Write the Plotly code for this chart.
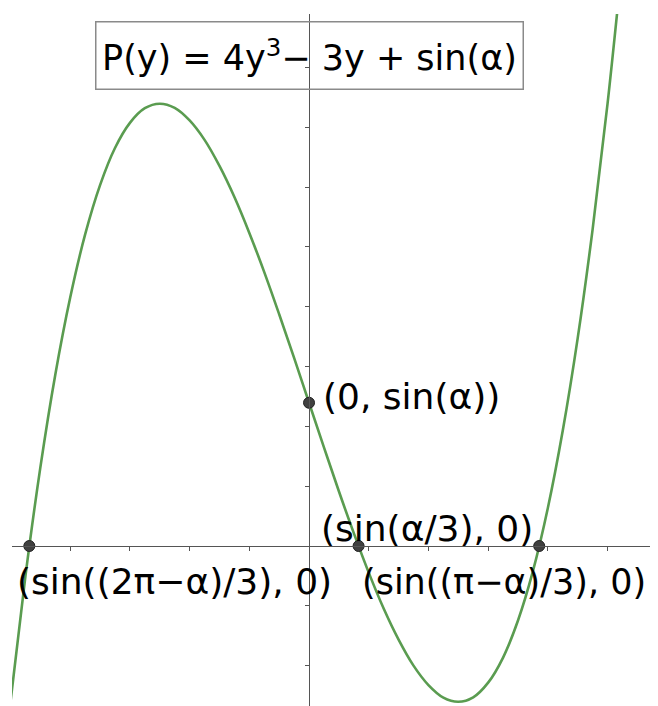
import plotly.graph_objects as go

# curve P(y) = 4y^3 - 3y + sin(alpha)
y_vals = [-1.05, -1.0, -0.95, -0.9, -0.85, -0.8, -0.75, -0.7, -0.65, -0.6,
          -0.55, -0.5, -0.45, -0.4, -0.35, -0.3, -0.25, -0.2, -0.15, -0.1,
          -0.05, 0.0, 0.05, 0.1, 0.15, 0.2, 0.25, 0.3, 0.35, 0.4,
          0.45, 0.5, 0.55, 0.6, 0.65, 0.7, 0.75, 0.8, 0.85, 0.9,
          0.95, 1.0, 1.05]
p_vals = [-1.002, -0.521, -0.101, 0.263, 0.573, 0.831, 1.042, 1.207, 1.331, 1.415,
          1.464, 1.479, 1.465, 1.423, 1.358, 1.271, 1.167, 1.047, 0.916, 0.775,
          0.629, 0.479, 0.330, 0.183, 0.043, -0.089, -0.209, -0.313, -0.400, -0.465,
          -0.507, -0.521, -0.506, -0.457, -0.373, -0.249, -0.084, 0.127, 0.386, 0.695,
          1.059, 1.479, 1.960]

# marked points
pt_x = [-0.937, 0.166, 0.771, 0.0]
pt_y = [0.0, 0.0, 0.0, 0.479]
pt_labels = ["(sin((2π−α)/3), 0)", "(sin(α/3), 0)", "(sin((π−α)/3), 0)", "(0, sin(α))"]

X_RANGE = [-0.995, 1.169]
Y_RANGE = [-0.535, 1.779]

GREEN = "#5a9c50"
AXIS = "#555555"
FONT = "DejaVu Sans"

fig = go.Figure()

fig.add_trace(go.Scatter(
    x=y_vals, y=p_vals, mode="lines",
    line=dict(color=GREEN, width=2.6, shape="spline"),
    hoverinfo="skip",
))

fig.add_trace(go.Scatter(
    x=pt_x, y=pt_y, mode="markers",
    marker=dict(size=11, color="#404040", line=dict(color="#222222", width=1)),
    hoverinfo="skip",
))

# label anchors (data units), left edge / vertical middle, font size
label_pos = [(-0.985, -0.12, 36), (0.033, 0.06, 36), (0.170, -0.12, 35), (0.040, 0.50, 36)]
for txt, (lx, ly, fs) in zip(pt_labels, label_pos):
    fig.add_annotation(
        x=lx, y=ly, text=txt, showarrow=False,
        xanchor="left", yanchor="middle",
        font=dict(family=FONT, size=fs, color="black"),
    )

fig.add_annotation(
    x=0.003, y=1.639, text="P(y) = 4y<sup>3</sup>− 3y + sin(α)",
    showarrow=False, xanchor="center", yanchor="middle",
    font=dict(family=FONT, size=35, color="black"),
    bordercolor="#8a8a8a", borderwidth=1.5, borderpad=6,
    bgcolor="rgba(255,255,255,0)",
    width=414, height=54,
)

x0_frac = (0 - Y_RANGE[0]) / (Y_RANGE[1] - Y_RANGE[0])
y0_frac = (0 - X_RANGE[0]) / (X_RANGE[1] - X_RANGE[0])

# the page adds an 8px body margin, so the figure is a bit smaller than the window
fig.update_layout(
    width=650, height=698,
    margin=dict(l=4, r=0, t=6, b=0),
    paper_bgcolor="white", plot_bgcolor="white",
    showlegend=False,
    xaxis=dict(
        range=X_RANGE, anchor="free", position=x0_frac,
        showline=True, linecolor=AXIS, linewidth=1,
        ticks="outside", ticklen=4, tickcolor=AXIS, tickwidth=1,
        tick0=0, dtick=0.2, showticklabels=False,
        showgrid=False, zeroline=False, fixedrange=True,
    ),
    yaxis=dict(
        range=Y_RANGE, anchor="free", position=y0_frac,
        showline=True, linecolor=AXIS, linewidth=1,
        ticks="outside", ticklen=4, tickcolor=AXIS, tickwidth=1,
        tick0=0, dtick=0.2, showticklabels=False,
        showgrid=False, zeroline=False, fixedrange=True,
    ),
)

fig.write_html("out.html")
